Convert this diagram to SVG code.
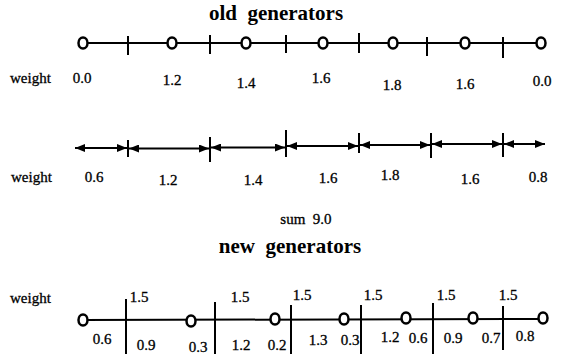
<svg xmlns="http://www.w3.org/2000/svg" width="563" height="354" viewBox="0 0 563 354">
<style>
text{font-family:'Liberation Serif','Times New Roman',serif;fill:#000}
.t{font-size:21px;font-weight:bold;text-anchor:middle}
.n{font-size:15px;text-anchor:middle;stroke:#000;stroke-width:0.3}
.w{font-size:15px;stroke:#000;stroke-width:0.3}
.ln{stroke:#000;stroke-width:2;fill:none}
.tk{stroke:#000;stroke-width:2;fill:none}
.c{stroke:#000;stroke-width:2.5;fill:#fff}
.ar{stroke:#000;stroke-width:2;fill:none;marker-start:url(#ah);marker-end:url(#ah)}
</style>
<defs>
<marker id="ah" viewBox="0 0 10 8" refX="10" refY="4" markerWidth="10" markerHeight="8" markerUnits="userSpaceOnUse" orient="auto-start-reverse">
<path d="M0,0 L10,4 L0,8 Z" fill="#000"/>
</marker>
</defs>

<text class="t" x="276" y="20" xml:space="preserve">old  generators</text>

<g id="connectors">
<line class="ln" x1="83" y1="43" x2="541" y2="43"/>
<line class="tk" x1="128" y1="36" x2="128" y2="55"/>
<line class="tk" x1="210" y1="35" x2="210" y2="54"/>
<line class="tk" x1="286" y1="35" x2="286" y2="53"/>
<line class="tk" x1="359" y1="33" x2="359" y2="53"/>
<line class="tk" x1="427" y1="37" x2="427" y2="56"/>
<line class="tk" x1="503" y1="37" x2="503" y2="58"/>

<line class="ar" x1="75" y1="148" x2="127" y2="148"/>
<line class="ar" x1="129" y1="148.5" x2="209" y2="148.5"/>
<line class="ar" x1="211" y1="147.5" x2="285" y2="147.5"/>
<line class="ar" x1="287" y1="146" x2="358" y2="146"/>
<line class="ar" x1="360" y1="145" x2="430" y2="145"/>
<line class="ar" x1="432" y1="144" x2="502" y2="144"/>
<line class="ar" x1="504" y1="144" x2="545" y2="144"/>
<line class="tk" x1="128" y1="140" x2="128" y2="157"/>
<line class="tk" x1="210" y1="137" x2="210" y2="162"/>
<line class="tk" x1="286" y1="130" x2="286" y2="157"/>
<line class="tk" x1="359" y1="133" x2="359" y2="153"/>
<line class="tk" x1="431" y1="133" x2="431" y2="158"/>
<line class="tk" x1="503" y1="133" x2="503" y2="157"/>

<line class="ln" x1="83" y1="320" x2="543" y2="319"/>
<line class="tk" x1="126" y1="299" x2="126" y2="354"/>
<line class="tk" x1="215" y1="302" x2="215" y2="354"/>
<line class="tk" x1="291" y1="305" x2="291" y2="354"/>
<line class="tk" x1="361" y1="305" x2="361" y2="354"/>
<line class="tk" x1="433" y1="303" x2="433" y2="354"/>
<line class="tk" x1="503" y1="306" x2="503" y2="350"/>
</g>

<g id="old-generators">
<ellipse class="c" cx="83" cy="43" rx="4.5" ry="5.5"/>
<ellipse class="c" cx="172" cy="43" rx="4.5" ry="5.5"/>
<ellipse class="c" cx="246" cy="43" rx="4.5" ry="5.5"/>
<ellipse class="c" cx="323" cy="43" rx="4.5" ry="5.5"/>
<ellipse class="c" cx="393" cy="43" rx="4.5" ry="5.5"/>
<ellipse class="c" cx="465" cy="43" rx="4.5" ry="5.5"/>
<ellipse class="c" cx="541" cy="43" rx="4.5" ry="5.5"/>
</g>

<g id="old-weights">
<text class="w" x="10" y="83">weight</text>
<text class="n" x="82" y="83">0.0</text>
<text class="n" x="172" y="85">1.2</text>
<text class="n" x="246" y="88">1.4</text>
<text class="n" x="321" y="83">1.6</text>
<text class="n" x="392" y="90">1.8</text>
<text class="n" x="465" y="89">1.6</text>
<text class="n" x="542" y="86">0.0</text>
</g>

<g id="interval-weights">
<text class="w" x="11" y="182">weight</text>
<text class="n" x="94" y="182">0.6</text>
<text class="n" x="168" y="185">1.2</text>
<text class="n" x="253" y="185">1.4</text>
<text class="n" x="328" y="183">1.6</text>
<text class="n" x="390" y="180">1.8</text>
<text class="n" x="470" y="184">1.6</text>
<text class="n" x="538" y="182">0.8</text>
<text class="n" x="306" y="224" xml:space="preserve">sum  9.0</text>
</g>

<text class="t" x="290" y="253" xml:space="preserve">new  generators</text>

<g id="new-generators">
<ellipse class="c" cx="83" cy="320" rx="4.5" ry="5.5"/>
<ellipse class="c" cx="191" cy="321" rx="4.5" ry="5.5"/>
<ellipse class="c" cx="275" cy="319" rx="4.5" ry="5.5"/>
<ellipse class="c" cx="344" cy="319" rx="4.5" ry="5.5"/>
<ellipse class="c" cx="406" cy="318" rx="4.5" ry="5.5"/>
<ellipse class="c" cx="473" cy="318" rx="4.5" ry="5.5"/>
<ellipse class="c" cx="543" cy="318" rx="4.5" ry="5.5"/>
</g>

<g id="new-weights">
<text class="w" x="10" y="303">weight</text>
<text class="n" x="139" y="302">1.5</text>
<text class="n" x="240" y="302">1.5</text>
<text class="n" x="302" y="300">1.5</text>
<text class="n" x="373" y="300">1.5</text>
<text class="n" x="446" y="300">1.5</text>
<text class="n" x="508" y="300">1.5</text>
<text class="n" x="102" y="344">0.6</text>
<text class="n" x="146" y="350">0.9</text>
<text class="n" x="198" y="352">0.3</text>
<text class="n" x="241" y="350">1.2</text>
<text class="n" x="277" y="350">0.2</text>
<text class="n" x="318" y="345">1.3</text>
<text class="n" x="350" y="345">0.3</text>
<text class="n" x="390" y="342">1.2</text>
<text class="n" x="418" y="343">0.6</text>
<text class="n" x="453" y="343">0.9</text>
<text class="n" x="491" y="343">0.7</text>
<text class="n" x="525" y="341">0.8</text>
</g>
</svg>
